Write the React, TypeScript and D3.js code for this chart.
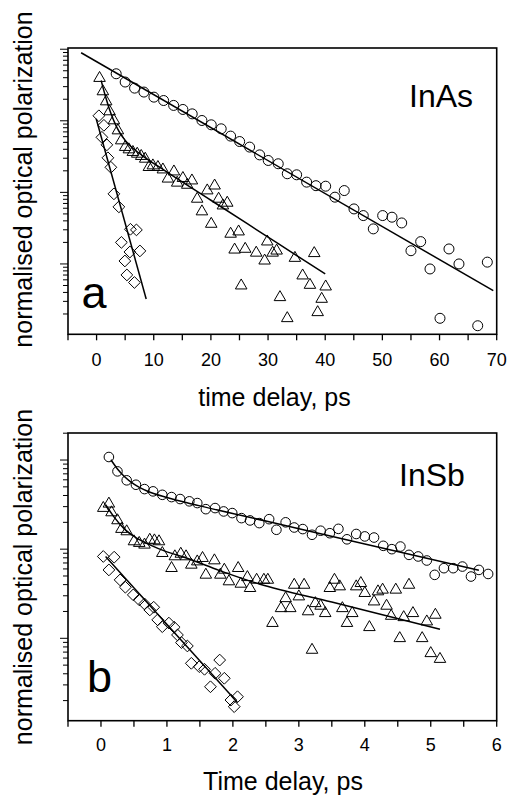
import React from "react";
import * as d3 from "d3";

// ---------- Panel a : InAs ----------
const inasCircleT = [3.43, 5.0, 6.65, 8.28, 10.03, 11.73, 13.48, 15.1, 16.73, 18.43, 20.06, 21.8, 23.45, 25.03, 26.78, 28.53, 30.03, 31.78, 33.36, 35.0, 36.75, 38.38, 40.08, 41.7, 43.33, 45.03, 46.66, 48.41, 50.05, 51.68, 53.38, 55.0, 56.7, 58.33, 60.08, 61.65, 63.4, 66.68, 68.36];
const inasCircleP = [0.454, 0.348, 0.286, 0.252, 0.214, 0.192, 0.164, 0.144, 0.125, 0.101, 0.0879, 0.0773, 0.0611, 0.0513, 0.0429, 0.0334, 0.0279, 0.0251, 0.0182, 0.0176, 0.0139, 0.0124, 0.0122, 0.00857, 0.0106, 0.00587, 0.00474, 0.00309, 0.00474, 0.0045, 0.00374, 0.00153, 0.00205, 0.000851, 0.000174, 0.00162, 0.001, 0.000137, 0.00106];

const inasTriT = [0.52, 1.1, 1.68, 2.27, 3.03, 3.73, 4.31, 5.01, 5.65, 6.35, 7.11, 7.81, 8.51, 9.15, 9.85, 10.73, 11.6, 12.48, 13.53, 14.1, 15.1, 15.86, 16.68, 17.6, 18.43, 19.36, 20.06, 20.65, 21.35, 22.1, 22.86, 23.45, 24.15, 24.85, 25.3, 26.0, 27.93, 29.4, 29.86, 30.8, 31.5, 32.08, 33.36, 34.7, 36.05, 37.33, 38.08, 38.68, 39.38, 40.08];
const inasTriP = [0.395, 0.257, 0.186, 0.135, 0.101, 0.0731, 0.053, 0.0429, 0.0397, 0.0365, 0.0345, 0.0321, 0.0294, 0.0225, 0.0237, 0.0225, 0.0208, 0.0155, 0.0195, 0.0136, 0.0158, 0.0127, 0.0146, 0.00811, 0.0054, 0.0106, 0.00362, 0.0124, 0.00811, 0.00653, 0.00713, 0.00263, 0.00158, 0.00283, 0.000498, 0.00162, 0.00143, 0.00111, 0.00205, 0.00143, 0.00153, 0.000342, 0.000174, 0.00121, 0.000687, 0.000508, 0.00141, 0.000211, 0.000324, 0.000482];

const inasDiaT = [0.4, 1.28, 0.93, 1.8, 1.98, 2.5, 3.03, 3.9, 5.92, 6.97, 4.34, 5.83, 7.58, 4.95, 5.3, 6.62];
const inasDiaP = [0.1175, 0.0865, 0.0588, 0.0461, 0.0304, 0.0224, 0.00953, 0.00627, 0.00305, 0.00299, 0.002, 0.00147, 0.00152, 0.0011, 0.000702, 0.000551];

const inasCircleFitT = [-2.7, 69.4];
const inasCircleFitP = [0.893, 0.000424];
const inasTriFitT = [0.8, 1.5, 2.5, 3.5, 4.5, 6, 8, 12, 20, 30, 40];
const inasTriFitP = [0.366, 0.227, 0.127, 0.0821, 0.0601, 0.0438, 0.0327, 0.02, 0.00776, 0.00237, 0.000724];
const inasDiaFitT = [-0.07, 8.68];
const inasDiaFitP = [0.1067, 0.000324];

const inasXTicks = [-5, 0, 5, 10, 15, 20, 25, 30, 35, 40, 45, 50, 55, 60, 65, 70];
const inasXLabels = [0, 10, 20, 30, 40, 50, 60, 70];

// ---------- Panel b : InSb ----------
const insbCircleT = [0.12, 0.25, 0.39, 0.53, 0.66, 0.79, 0.93, 1.07, 1.2, 1.34, 1.46, 1.59, 1.73, 1.86, 1.99, 2.13, 2.26, 2.4, 2.55, 2.66, 2.8, 2.93, 3.06, 3.2, 3.33, 3.47, 3.6, 3.73, 3.87, 4.0, 4.14, 4.28, 4.41, 4.54, 4.67, 4.81, 4.94, 5.06, 5.2, 5.34, 5.48, 5.61, 5.73, 5.87];
const insbCircleP = [1.081, 0.746, 0.592, 0.528, 0.472, 0.445, 0.407, 0.384, 0.365, 0.344, 0.329, 0.281, 0.289, 0.265, 0.254, 0.223, 0.21, 0.196, 0.217, 0.165, 0.2, 0.175, 0.168, 0.145, 0.161, 0.151, 0.169, 0.129, 0.148, 0.139, 0.135, 0.109, 0.1, 0.107, 0.0863, 0.0828, 0.0746, 0.0515, 0.0612, 0.0612, 0.0638, 0.0493, 0.0585, 0.0527];

const insbTriT = [0.035, 0.12, 0.16, 0.25, 0.31, 0.39, 0.5, 0.58, 0.66, 0.74, 0.81, 0.88, 0.93, 1.07, 1.12, 1.21, 1.29, 1.37, 1.46, 1.54, 1.59, 1.72, 1.81, 1.87, 1.94, 2.08, 2.12, 2.22, 2.26, 2.36, 2.47, 2.53, 2.6, 2.73, 2.8, 2.87, 2.93, 3.0, 3.08, 3.14, 3.2, 3.25, 3.33, 3.4, 3.47, 3.54, 3.62, 3.66, 3.73, 3.81, 3.87, 3.94, 4.0, 4.07, 4.14, 4.2, 4.27, 4.33, 4.4, 4.47, 4.53, 4.59, 4.67, 4.73, 4.87, 4.94, 5.0, 5.07, 5.14];
const insbTriP = [0.289, 0.323, 0.258, 0.21, 0.168, 0.158, 0.122, 0.117, 0.112, 0.127, 0.125, 0.122, 0.0902, 0.0612, 0.0828, 0.0885, 0.0828, 0.0667, 0.0726, 0.0793, 0.0515, 0.0746, 0.0515, 0.0586, 0.0434, 0.0612, 0.0408, 0.0484, 0.0365, 0.0452, 0.0452, 0.0452, 0.0148, 0.0217, 0.0281, 0.0217, 0.0397, 0.0294, 0.0397, 0.02, 0.0074, 0.0247, 0.0231, 0.0191, 0.0365, 0.0452, 0.0381, 0.0217, 0.0148, 0.0191, 0.0381, 0.0415, 0.0321, 0.0133, 0.0258, 0.0335, 0.035, 0.0231, 0.0178, 0.035, 0.01, 0.0172, 0.0397, 0.0191, 0.01, 0.0154, 0.00679, 0.0183, 0.00585];

const insbDiaT = [0.035, 0.2, 0.12, 0.29, 0.37, 0.49, 0.58, 0.66, 0.8, 0.74, 0.86, 0.93, 1.03, 1.11, 1.16, 1.22, 1.31, 1.37, 1.49, 1.57, 1.66, 1.73, 1.8, 1.87, 1.97, 2.02, 2.07];
const insbDiaP = [0.0828, 0.0813, 0.0585, 0.0452, 0.0374, 0.0307, 0.027, 0.0243, 0.0223, 0.0208, 0.0161, 0.0135, 0.0148, 0.0133, 0.0109, 0.00895, 0.0082, 0.00524, 0.00481, 0.00449, 0.00286, 0.00405, 0.0057, 0.00356, 0.00203, 0.00171, 0.00221];

const insbCircleFitT = [0.15, 0.25, 0.35, 0.5, 0.7, 1.0, 1.5, 2.5, 4.0, 5.73];
const insbCircleFitP = [1.006, 0.794, 0.659, 0.537, 0.449, 0.379, 0.306, 0.2065, 0.1145, 0.0581];
const insbTriFitT = [0.07, 0.2, 0.35, 0.5, 0.75, 1.0, 1.26, 1.8, 2.4, 3.5, 5.14];
const insbTriFitP = [0.315, 0.229, 0.17, 0.139, 0.111, 0.0933, 0.0813, 0.0575, 0.0407, 0.0255, 0.0126];
const insbDiaFitT = [0.07, 2.07];
const insbDiaFitP = [0.0828, 0.00191];

const insbXTicks = [-0.5, 0, 0.5, 1, 1.5, 2, 2.5, 3, 3.5, 4, 4.5, 5, 5.5, 6];
const insbXLabels = [0, 1, 2, 3, 4, 5, 6];

const FONT = "'Liberation Sans', Arial, Helvetica, sans-serif";
const zip = (a: number[], b: number[]) => a.map((v, i) => [v, b[i]] as [number, number]);

type Shape = "circle" | "triangle" | "diamond";

function markerPath(shape: Shape, cx: number, cy: number, s: number) {
  if (shape === "triangle") {
    const w = s * 1.1, h = s * 0.95;
    return `M${cx},${cy - (2 * h) / 3}L${cx + w / 2},${cy + h / 3}L${cx - w / 2},${cy + h / 3}Z`;
  }
  const r = s * 0.56;
  return `M${cx},${cy - r}L${cx + r},${cy}L${cx},${cy + r}L${cx - r},${cy}Z`;
}

interface Series { shape: Shape; t: number[]; p: number[]; size: number }
interface Fit { t: number[]; p: number[] }

interface PanelProps {
  xDomain: [number, number];
  yDomain: [number, number];
  left: number; right: number; top: number; bottom: number;
  xTicks: number[]; xLabels: number[];
  series: Series[]; fits: Fit[];
  letter: string; letterX: number; letterY: number;
  sample: string; sampleX: number; sampleY: number;
  xTitle: string; xTitleX: number; xTitleY: number;
  tickLabelY: number;
  yTitleY: number;
}

function Panel(p: PanelProps) {
  const x = d3.scaleLinear().domain(p.xDomain).range([p.left, p.right]);
  const y = d3.scaleLog().domain(p.yDomain).range([p.bottom, p.top]);
  const line = d3.line<[number, number]>().x(d => x(d[0])).y(d => y(d[1])).curve(d3.curveMonotoneX);
  const [lo, hi] = p.yDomain;
  const yTicks: { v: number; major: boolean }[] = [];
  for (let k = Math.floor(Math.log10(lo)); k <= Math.ceil(Math.log10(hi)); k++) {
    for (let m = 1; m <= 9; m++) {
      const v = m * Math.pow(10, k);
      if (v >= lo * 0.999 && v <= hi * 1.001) yTicks.push({ v, major: m === 1 });
    }
  }
  return (
    <g>
      {p.fits.map((f, i) => (
        <path key={"f" + i} d={line(zip(f.t, f.p)) || ""} fill="none" stroke="#000" strokeWidth={1.5} />
      ))}
      {p.series.map((s, si) => (
        <g key={"s" + si}>
          {zip(s.t, s.p).map((d, i) =>
            s.shape === "circle" ? (
              <circle key={i} cx={x(d[0])} cy={y(d[1])} r={s.size / 2} fill="none" stroke="#000" strokeWidth={1} />
            ) : (
              <path key={i} d={markerPath(s.shape, x(d[0]), y(d[1]), s.size)} fill="none" stroke="#000" strokeWidth={1} />
            )
          )}
        </g>
      ))}
      <rect x={p.left} y={p.top} width={p.right - p.left} height={p.bottom - p.top} fill="none" stroke="#000" strokeWidth={1.6} />
      {p.xTicks.map(t => (
        <line key={"xt" + t} x1={x(t)} x2={x(t)} y1={p.bottom} y2={p.bottom + 6} stroke="#000" strokeWidth={1.3} />
      ))}
      {p.xLabels.map(t => (
        <text key={"xl" + t} x={x(t)} y={p.tickLabelY} textAnchor="middle" fontFamily={FONT} fontSize={18}>{t}</text>
      ))}
      {yTicks.map((t, i) => (
        <line key={"yt" + i} x1={p.left - (t.major ? 8 : 5)} x2={p.left} y1={y(t.v)} y2={y(t.v)} stroke="#000" strokeWidth={1} />
      ))}
      <text x={p.letterX} y={p.letterY} fontFamily={FONT} fontSize={45}>{p.letter}</text>
      <text x={p.sampleX} y={p.sampleY} fontFamily={FONT} fontSize={32}>{p.sample}</text>
      <text x={p.xTitleX} y={p.xTitleY} textAnchor="middle" fontFamily={FONT} fontSize={25}>{p.xTitle}</text>
      <text transform={`translate(32,${p.yTitleY}) rotate(-90)`} textAnchor="middle" fontFamily={FONT} fontSize={25}>
        normalised optical polarization
      </text>
    </g>
  );
}

export default function App() {
  return (
    <svg width={507} height={796} viewBox="0 0 507 796" style={{ position: "absolute", left: 0, top: 0, background: "#fff" }}>
      <rect x={0} y={0} width={507} height={796} fill="#fff" />
      <Panel
        xDomain={[-5, 70]} yDomain={[1.04e-4, 1.04]}
        left={68} right={496.7} top={48} bottom={334.3}
        xTicks={inasXTicks} xLabels={inasXLabels}
        series={[
          { shape: "circle", t: inasCircleT, p: inasCircleP, size: 10 },
          { shape: "triangle", t: inasTriT, p: inasTriP, size: 10.5 },
          { shape: "diamond", t: inasDiaT, p: inasDiaP, size: 10.5 },
        ]}
        fits={[
          { t: inasCircleFitT, p: inasCircleFitP },
          { t: inasTriFitT, p: inasTriFitP },
          { t: inasDiaFitT, p: inasDiaFitP },
        ]}
        letter="a" letterX={81.5} letterY={308}
        sample="InAs" sampleX={409} sampleY={107}
        xTitle="time delay, ps" xTitleX={274.5} xTitleY={406}
        tickLabelY={365.5}
        yTitleY={179.5}
      />
      <Panel
        xDomain={[-0.5, 6]} yDomain={[0.00119, 2.01]}
        left={68} right={496.7} top={433} bottom={720.7}
        xTicks={insbXTicks} xLabels={insbXLabels}
        series={[
          { shape: "circle", t: insbCircleT, p: insbCircleP, size: 9.6 },
          { shape: "triangle", t: insbTriT, p: insbTriP, size: 10.5 },
          { shape: "diamond", t: insbDiaT, p: insbDiaP, size: 10.5 },
        ]}
        fits={[
          { t: insbCircleFitT, p: insbCircleFitP },
          { t: insbTriFitT, p: insbTriFitP },
          { t: insbDiaFitT, p: insbDiaFitP },
        ]}
        letter="b" letterX={87} letterY={692}
        sample="InSb" sampleX={399} sampleY={486}
        xTitle="Time delay, ps" xTitleX={283} xTitleY={790}
        tickLabelY={750.5}
        yTitleY={577}
      />
    </svg>
  );
}
